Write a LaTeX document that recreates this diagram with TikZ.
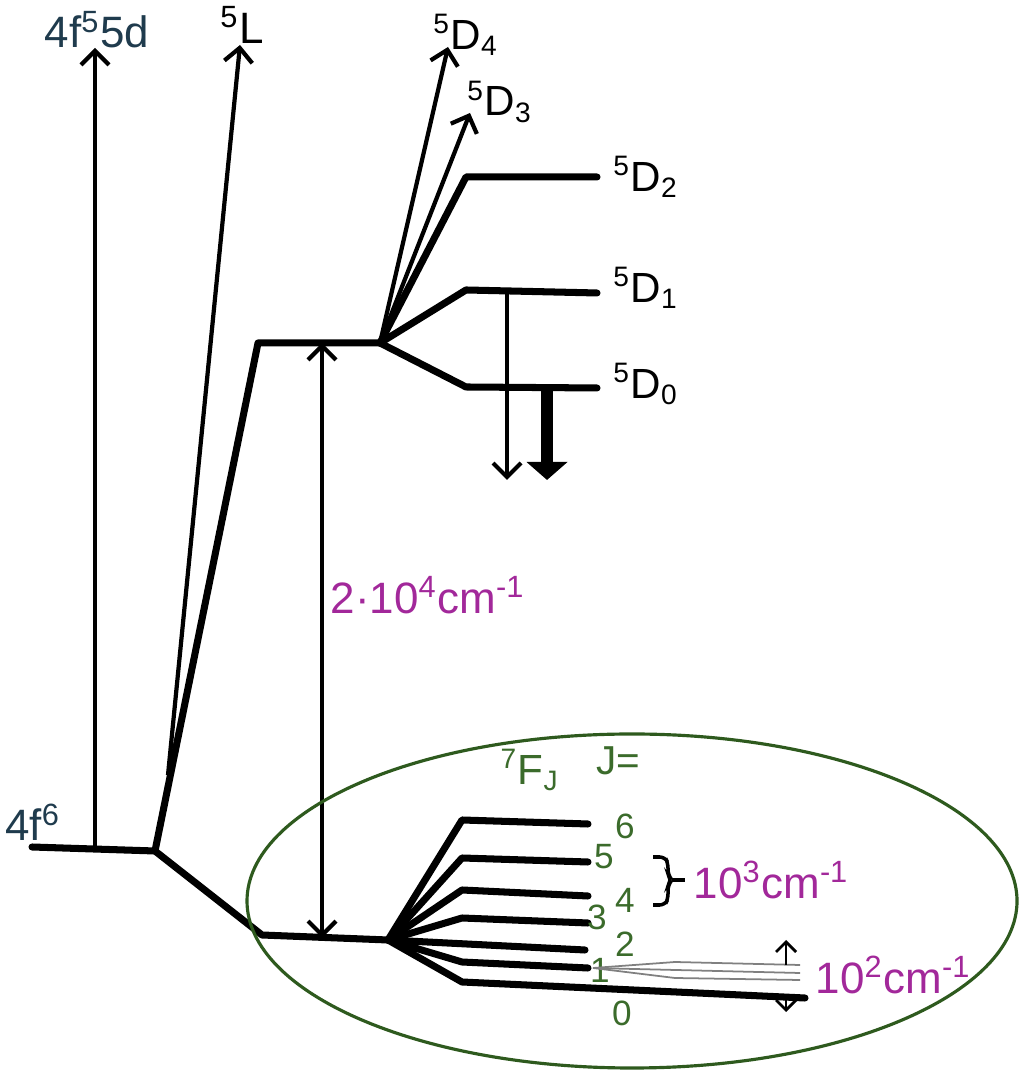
\documentclass[tikz,border=0pt]{standalone}
\usepackage{fontspec}
\setmainfont{Liberation Sans}
\usetikzlibrary{arrows.meta}
\definecolor{labblue}{HTML}{1F3B4D}
\definecolor{fgreen}{HTML}{3B6B2B}
\definecolor{ellgreen}{HTML}{2E5A1E}
\definecolor{wnmag}{HTML}{A2289A}

\begin{document}
\begin{tikzpicture}
  [level/.style={line width=2pt, line cap=round, line join=round},
   trans/.style={line width=1.2pt, -{Straight Barb[length=1.4mm,width=2.8mm]}},
   both/.style={line width=1.2pt, {Straight Barb[length=1.4mm,width=2.8mm]}-{Straight Barb[length=1.4mm,width=2.8mm]}},
   small/.style={line width=0.8pt, -{Straight Barb[length=1mm,width=2mm]}},
   every node/.style={inner sep=0pt}]
  \useasboundingbox (0,0) rectangle (10.25,10.75);

  % ground configuration and its splitting
  \coordinate (g0) at (0.32,2.28);
  \coordinate (j1) at (1.55,2.24);
  \coordinate (dl) at (2.58,7.32);
  \coordinate (d0) at (3.80,7.32);
  \coordinate (fl) at (2.62,1.40);
  \coordinate (f0) at (3.88,1.35);
  \draw[level] (g0) -- (j1) -- (dl) -- (d0);
  \draw[level] (j1) -- (fl) -- (f0);

  \node[text=labblue, font=\fontsize{12.5}{14}\selectfont] (lg) at (0.33,2.53) {4f\textsuperscript{6}};
  \node[text=labblue, font=\fontsize{12.5}{14}\selectfont] (lx) at (0.97,10.45) {4f\textsuperscript{5}5d};
  \node[font=\fontsize{12.5}{14}\selectfont] (lL) at (2.42,10.50) {\textsuperscript{5}L};

  % excitations
  \coordinate (a0) at (0.95,2.25);
  \coordinate (a1) at (0.95,10.27);
  \coordinate (b0) at (1.68,3.00);
  \coordinate (b1) at (2.40,10.30);
  \draw[trans] (a0) -- (a1);
  \draw[trans] (b0) -- (b1);

  % 5D levels
  \coordinate (t4) at (4.48,10.28);
  \coordinate (t3) at (4.70,9.62);
  \draw[trans] (d0) -- (t4);
  \draw[trans] (d0) -- (t3);
  \foreach \n/\ky/\ey in {2/8.98/8.98,1/7.85/7.82,0/6.88/6.87}{
    \coordinate (dk\n) at (4.66,\ky);
    \coordinate (de\n) at (5.97,\ey);
    \draw[level] (d0) -- (dk\n) -- (de\n);
  }
  \foreach \n/\x/\y in {4/4.66/10.40,3/5.00/9.73,2/6.46/8.98,1/6.46/7.87,0/6.46/6.91}
    \node[font=\fontsize{12}{14}\selectfont] (lD\n) at (\x,\y) {\textsuperscript{5}D\textsubscript{\n}};

  % emission
  \coordinate (e1) at (5.07,7.83);
  \coordinate (e1b) at (5.07,5.95);
  \coordinate (e0) at (5.47,6.85);
  \coordinate (e0b) at (5.47,5.95);
  \draw[trans] (e1) -- (e1b);
  \draw[line width=3.5pt, -{Triangle[length=1.8mm,width=4mm]}] (e0) -- (e0b);

  % gap
  \coordinate (w0) at (3.22,1.37);
  \coordinate (w1) at (3.22,7.32);
  \draw[both] (w0) -- (w1);
  \node[anchor=west, text=wnmag, font=\fontsize{12.5}{14}\selectfont] (lw) at (3.30,4.80) {2·10\textsuperscript{4}cm\textsuperscript{-1}};

  % 7F multiplet
  \draw[ellgreen, line width=0.9pt] (6.32,1.74) ellipse (3.85 and 1.67);
  \foreach \n/\ky/\ey in {6/2.55/2.51,5/2.17/2.13,4/1.85/1.79,3/1.57/1.52,1/1.13/1.07}{
    \coordinate (fk\n) at (4.62,\ky);
    \coordinate (fe\n) at (5.88,\ey);
    \draw[level] (f0) -- (fk\n) -- (fe\n);
  }
  \coordinate (fe2) at (5.85,1.25);
  \draw[level] (f0) -- (fe2);
  \coordinate (fk0) at (4.62,0.93);
  \coordinate (fe0) at (8.05,0.77);
  \draw[level] (f0) -- (fk0) -- (fe0);

  \foreach \n/\x/\y in {6/6.25/2.49,5/6.04/2.18,4/6.25/1.75,3/5.97/1.58,2/6.25/1.31,1/6.00/1.05,0/6.22/0.62}
    \node[text=fgreen, font=\fontsize{10}{11}\selectfont] (lJ\n) at (\x,\y) {\n};
  \node[text=fgreen, font=\fontsize{12}{13}\selectfont] (lF) at (5.30,3.05) {\textsuperscript{7}F\textsubscript{J}};
  \node[text=fgreen, font=\fontsize{11.5}{13}\selectfont] (lJ) at (6.18,3.14) {J=};

  % 10^3 bracket
  \coordinate (k1) at (6.53,2.18);
  \coordinate (k2) at (6.53,1.70);
  \coordinate (km) at (6.85,1.95);
  \draw[line width=1pt, rounded corners=1.5pt] (k1) -- (6.65,2.18) -- (6.68,2.12) -- (6.68,2.00) -- (6.72,1.95) -- (6.68,1.90) -- (6.68,1.76) -- (6.65,1.70) -- (k2);
  \draw[line width=1pt] (6.72,1.95) -- (km);
  \node[anchor=west, text=wnmag, font=\fontsize{12.5}{14}\selectfont] (lk) at (6.93,1.95) {10\textsuperscript{3}cm\textsuperscript{-1}};

  % 10^2 splitting
  \coordinate (s0) at (5.93,1.07);
  \draw[gray, line width=0.5pt] (s0) -- (6.75,1.13) -- (8.00,1.10);
  \draw[gray, line width=0.5pt] (s0) -- (8.00,1.02);
  \draw[gray, line width=0.5pt] (s0) -- (6.75,0.97) -- (8.00,0.95);
  \coordinate (u0) at (7.86,1.10);
  \coordinate (u1) at (7.86,1.35);
  \coordinate (v0) at (7.86,0.78);
  \coordinate (v1) at (7.86,0.63);
  \draw[small] (u0) -- (u1);
  \draw[small] (v0) -- (v1);
  \node[anchor=west, text=wnmag, font=\fontsize{12.5}{14}\selectfont] (lh) at (8.15,1.00) {10\textsuperscript{2}cm\textsuperscript{-1}};
\end{tikzpicture}
\end{document}
